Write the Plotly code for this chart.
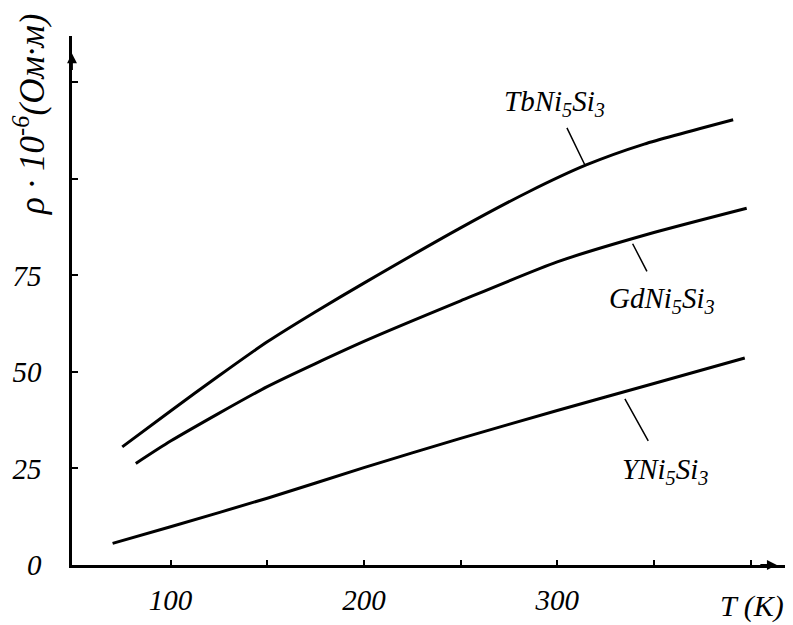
import plotly.graph_objects as go

# ---- data ----
tb_T = [75, 100, 125, 150, 175, 200, 250, 285, 315, 345, 391]
tb_rho = [30.6, 39.9, 49.0, 57.8, 65.6, 73.0, 87.3, 96.6, 103.6, 109.0, 115.3]

gd_T = [82, 100, 150, 200, 250, 300, 350, 398]
gd_rho = [26.3, 32.1, 46.2, 57.9, 68.4, 78.5, 86.1, 92.4]

y_T = [70, 100, 150, 200, 250, 300, 350, 397]
y_rho = [5.6, 9.9, 17.3, 25.2, 32.8, 40.0, 47.0, 53.6]

x_tickvals = [100, 150, 200, 250, 300, 350, 400]
x_ticktext = ["100", "", "200", "", "300", "", ""]
y_tickvals = [0, 25, 50, 75, 100, 125]
y_ticktext = ["0", "25", "50", "75", "", ""]

series = [
    ("TbNi<sub>5</sub>Si<sub>3</sub>", tb_T, tb_rho),
    ("GdNi<sub>5</sub>Si<sub>3</sub>", gd_T, gd_rho),
    ("YNi<sub>5</sub>Si<sub>3</sub>", y_T, y_rho),
]

FONT = "Liberation Serif"
FS = 29

fig = go.Figure()
for name, xs, ys in series:
    fig.add_trace(go.Scatter(
        x=xs, y=ys, mode="lines", name=name,
        line=dict(color="black", width=3, shape="spline", smoothing=0.6),
        showlegend=False, hoverinfo="skip",
    ))

X_RANGE = [49, 420.4]
Y_RANGE = [0, 137]

# the page body adds an 8px offset, so the figure is 8px smaller on each side
fig.update_layout(
    width=785, height=617,
    margin=dict(l=64, r=3, t=28, b=60),
    paper_bgcolor="white", plot_bgcolor="white",
    font=dict(family=FONT, color="black", size=FS),
    xaxis=dict(
        range=X_RANGE, showgrid=False, zeroline=False, automargin=False,
        showline=True, linecolor="black", linewidth=2.5,
        ticks="inside", ticklen=5, tickwidth=1.5, tickcolor="black",
        tickvals=x_tickvals, ticktext=x_ticktext,
        tickfont=dict(family=FONT, size=FS, style="italic"),
        ticklabelstandoff=7,
    ),
    yaxis=dict(
        range=Y_RANGE, showgrid=False, zeroline=False, automargin=False,
        showline=True, linecolor="black", linewidth=2.5,
        ticks="inside", ticklen=6, tickwidth=1.5, tickcolor="black",
        tickvals=y_tickvals, ticktext=y_ticktext,
        tickfont=dict(family=FONT, size=FS, style="italic"),
        ticklabelstandoff=22,
    ),
)

# axis arrowheads
fig.add_annotation(x=413.6, y=0, xref="x", yref="y", ax=-18, ay=0,
                   axref="pixel", ayref="pixel", text="", showarrow=True,
                   arrowhead=2, arrowsize=1.1, arrowwidth=1.8, arrowcolor="black")
fig.add_annotation(x=49, y=132.5, xref="x", yref="y", ax=0, ay=18,
                   text="", showarrow=True,
                   arrowhead=2, arrowsize=1.1, arrowwidth=1.8, arrowcolor="black")

# curve labels with leader lines
labels = [
    ("<i>TbNi<sub>5</sub>Si<sub>3</sub></i>", 314.3, 103.6, -30, -62, 0, 6),
    ("<i>GdNi<sub>5</sub>Si<sub>3</sub></i>", 339.0, 83.2, 29, 56, 0, 10),
    ("<i>YNi<sub>5</sub>Si<sub>3</sub></i>", 335.0, 43.0, 40, 72, 0, 12),
]
for txt, xh, yh, ax, ay, sd, ssd in labels:
    fig.add_annotation(x=xh, y=yh, xref="x", yref="y", ax=ax, ay=ay,
                       text=txt, showarrow=True, arrowhead=0, arrowwidth=1.5,
                       arrowcolor="black", standoff=sd, startstandoff=ssd,
                       font=dict(family=FONT, size=FS, color="black"))

# axis titles
fig.add_annotation(x=(30 - 72) / 718, y=(565 - 114) / 529, xref="paper", yref="paper",
                   xanchor="center", yanchor="middle",
                   text="<i>ρ · 10<sup>-6</sup>(Ом·м)</i>", textangle=-90,
                   showarrow=False, font=dict(family=FONT, size=35, color="black"))
fig.add_annotation(x=(752 - 72) / 718, y=(565 - 606) / 529, xref="paper", yref="paper",
                   xanchor="center", yanchor="middle",
                   text="<i>T (K)</i>", showarrow=False,
                   font=dict(family=FONT, size=30, color="black"))

fig.write_html("out.html")
